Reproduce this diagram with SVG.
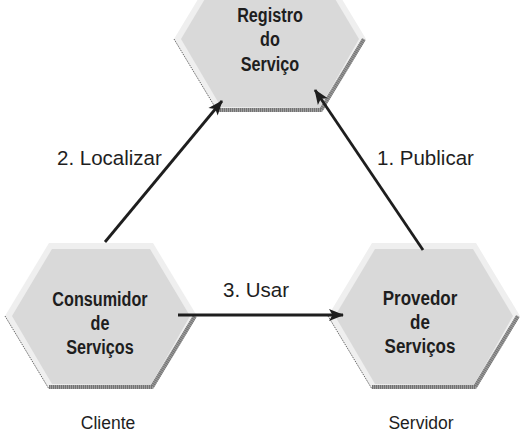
<svg xmlns="http://www.w3.org/2000/svg" width="530" height="435" viewBox="0 0 530 435">
  <style>
    .node-label { font-family: "Liberation Sans", Arial, sans-serif; font-weight: bold; font-size: 20.5px; fill: #1e1e1e; text-anchor: middle; }
    .edge-label { font-family: "Liberation Sans", Arial, sans-serif; font-size: 20.5px; fill: #1e1e1e; }
    .role-label { font-family: "Liberation Sans", Arial, sans-serif; font-size: 17.5px; fill: #1e1e1e; text-anchor: middle; }
    .edge { stroke: #1e1e1e; stroke-width: 2.8; fill: none; marker-end: url(#arrow); }
  </style>
  <defs>
    <marker id="arrow" markerUnits="userSpaceOnUse" markerWidth="16" markerHeight="12" refX="14" refY="6" orient="auto" overflow="visible">
      <path d="M0,0 L15,6 L0,12 L3.5,6 Z" fill="#1e1e1e"/>
    </marker>
    <g id="hex">
      <polygon points="-52,-73 52,-73 96,0 52,73 -52,73 -96,0" fill="#efefef"/>
      <polygon points="-49,-67 49,-67 89,0 50,69 -49,68 -89,0" fill="#d9d9d9"/>
      <polyline points="-96,0 -52,73" fill="none" stroke="#444" stroke-width="0.8" stroke-dasharray="1.5 1"/>
      <polyline points="-52,71 51,71 94,0" fill="none" stroke="#a0a0a0" stroke-width="4"/>
      <polyline points="-52,71 51,71 94,0" fill="none" stroke="#555" stroke-width="4" stroke-dasharray="1 1" opacity="0.6"/>
    </g>
  </defs>
  <rect width="530" height="435" fill="#ffffff"/>

  <g id="registro">
    <use href="#hex" transform="translate(270,39)"/>
    <g transform="translate(270,0) scale(0.79,1)">
      <text class="node-label" x="0" y="22">Registro</text>
      <text class="node-label" x="0" y="46">do</text>
      <text class="node-label" x="0" y="71">Serviço</text>
    </g>
  </g>

  <g id="consumidor">
    <use href="#hex" transform="translate(101,316)"/>
    <g transform="translate(100,0) scale(0.79,1)">
      <text class="node-label" x="0" y="306">Consumidor</text>
      <text class="node-label" x="0" y="330">de</text>
      <text class="node-label" x="0" y="354">Serviços</text>
    </g>
  </g>

  <g id="provedor">
    <use href="#hex" transform="translate(424,316)"/>
    <g transform="translate(420,0) scale(0.83,1)">
      <text class="node-label" x="0" y="305">Provedor</text>
      <text class="node-label" x="0" y="329">de</text>
      <text class="node-label" x="0" y="353">Serviços</text>
    </g>
  </g>

  <g id="connectors">
    <line class="edge" x1="105" y1="242" x2="222" y2="101"/>
    <line class="edge" x1="423" y1="250" x2="315" y2="90"/>
    <line class="edge" x1="178" y1="315" x2="343" y2="315"/>
    <text class="edge-label" x="57" y="165">2. Localizar</text>
    <text class="edge-label" x="377" y="165">1. Publicar</text>
    <text class="edge-label" x="223" y="297">3. Usar</text>
  </g>

  <g id="roles">
    <text class="role-label" x="108" y="429">Cliente</text>
    <text class="role-label" x="421" y="429">Servidor</text>
  </g>
</svg>
